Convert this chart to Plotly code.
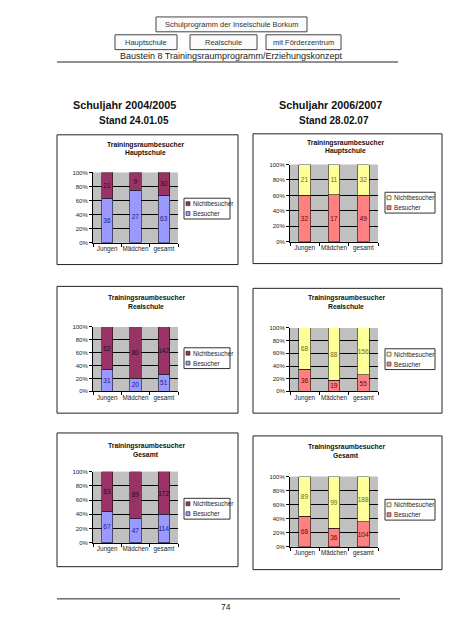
import plotly.graph_objects as go

# ---------------- data ----------------
categories = ["Jungen", "Mädchen", "gesamt"]
series_names = ["Besucher", "Nichtbesucher"]

# Schuljahr 2004/2005 (Stand 24.01.05)
haupt_0405_besucher = [36, 27, 63]
haupt_0405_nicht = [21, 9, 30]
real_0405_besucher = [31, 20, 51]
real_0405_nicht = [62, 80, 142]
ges_0405_besucher = [67, 47, 114]
ges_0405_nicht = [83, 89, 172]

# Schuljahr 2006/2007 (Stand 28.02.07)
haupt_0607_besucher = [32, 17, 49]
haupt_0607_nicht = [21, 11, 32]
real_0607_besucher = [36, 19, 55]
real_0607_nicht = [68, 88, 156]
ges_0607_besucher = [68, 36, 104]
ges_0607_nicht = [89, 99, 188]

y_tick_values = [0, 20, 40, 60, 80, 100]
y_tick_labels = ["0%", "20%", "40%", "60%", "80%", "100%"]

chart_title = "Trainingsraumbesucher"
chart_subtitles = ["Hauptschule", "Hauptschule", "Realschule", "Realschule", "Gesamt", "Gesamt"]

# ---------------- layout helpers ----------------
W, H = 452, 640
OFF = 8            # default page (body) margin of the written html
FW, FH = W - OFF, H - OFF
FONT = "Liberation Sans, Arial, sans-serif"


def fx(x):
    return (x - OFF) / FW


def fy(y):
    return 1 - (y - OFF) / FH


left_colors = {"Besucher": "#9999ff", "Nichtbesucher": "#993366"}
right_colors = {"Besucher": "#ff8080", "Nichtbesucher": "#ffff99"}
left_text = {"Besucher": "#1c1c80", "Nichtbesucher": "#2a0a22"}
right_text = {"Besucher": "#6a0808", "Nichtbesucher": "#6a6a30"}

charts = [
    dict(b=haupt_0405_besucher, n=haupt_0405_nicht, side="L",
         plot=(93, 178, 171, 242), frame=(57, 133, 238, 264), title=(145, 143), legend=(184, 197)),
    dict(b=haupt_0607_besucher, n=haupt_0607_nicht, side="R",
         plot=(290, 378, 163, 241), frame=(253, 132, 442, 263), title=(345, 141), legend=(385, 191)),
    dict(b=real_0405_besucher, n=real_0405_nicht, side="L",
         plot=(93, 178, 327, 392), frame=(57, 286, 238, 414), title=(146, 298), legend=(184, 348)),
    dict(b=real_0607_besucher, n=real_0607_nicht, side="R",
         plot=(290, 378, 328, 392), frame=(253, 288, 442, 414), title=(346, 298), legend=(385, 349)),
    dict(b=ges_0405_besucher, n=ges_0405_nicht, side="L",
         plot=(93, 178, 473, 545), frame=(57, 434, 238, 569), title=(146, 447), legend=(184, 500)),
    dict(b=ges_0607_besucher, n=ges_0607_nicht, side="R",
         plot=(290, 378, 478, 549), frame=(253, 437, 442, 572), title=(346, 448), legend=(385, 501)),
]

fig = go.Figure()
shapes = []
annotations = []
layout_axes = {}

for i, c in enumerate(charts, start=1):
    xid = "x" if i == 1 else f"x{i}"
    yid = "y" if i == 1 else f"y{i}"
    cols = left_colors if c["side"] == "L" else right_colors
    tcols = left_text if c["side"] == "L" else right_text
    for name, vals in (("Besucher", c["b"]), ("Nichtbesucher", c["n"])):
        fig.add_trace(go.Bar(
            x=categories, y=vals, name=name, text=vals,
            textposition="inside", insidetextanchor="middle", constraintext="none", textangle=0,
            textfont=dict(size=6.6, color=tcols[name], family=FONT),
            marker=dict(color=cols[name], line=dict(color="#111111", width=0.6)),
            width=0.4, showlegend=False, xaxis=xid, yaxis=yid,
            hovertemplate="%{x}: %{text}<extra>" + name + "</extra>",
        ))

    x0, x1, y0, y1 = c["plot"]
    xkey = "xaxis" if i == 1 else f"xaxis{i}"
    ykey = "yaxis" if i == 1 else f"yaxis{i}"
    layout_axes[xkey] = dict(
        domain=[fx(x0), fx(x1)], anchor=yid, type="category", range=[-0.5, 2.5],
        showline=True, linecolor="black", linewidth=1, showgrid=False,
        ticks="outside", ticklen=3, tickcolor="black", tickson="boundaries", tickangle=0,
        tickfont=dict(size=6.3, family=FONT, color="#222222"), fixedrange=True,
    )
    layout_axes[ykey] = dict(
        domain=[fy(y1), fy(y0)], anchor=xid, range=[0, 100],
        tickvals=y_tick_values, ticktext=y_tick_labels,
        showline=True, linecolor="black", linewidth=1,
        showgrid=True, gridcolor="black", gridwidth=1, zeroline=False,
        ticks="outside", ticklen=3, tickcolor="black", tickangle=0,
        tickfont=dict(size=6, family=FONT, color="#222222"), fixedrange=True,
    )

    # chart frame
    fx0, fy0, fx1, fy1 = c["frame"]
    shapes.append(dict(type="rect", xref="paper", yref="paper",
                       x0=fx(fx0), x1=fx(fx1), y0=fy(fy0), y1=fy(fy1),
                       line=dict(color="#222222", width=1), fillcolor="rgba(0,0,0,0)", layer="below"))

    # chart title
    tx, ty = c["title"]
    annotations.append(dict(text="<b>" + chart_title + "</b>", x=fx(tx), y=fy(ty),
                            xref="paper", yref="paper", showarrow=False, xanchor="center", yanchor="middle",
                            font=dict(size=6.8, family=FONT, color="#111111")))
    annotations.append(dict(text="<b>" + chart_subtitles[i - 1] + "</b>", x=fx(tx), y=fy(ty + 8.5),
                            xref="paper", yref="paper", showarrow=False, xanchor="center", yanchor="middle",
                            font=dict(size=6.8, family=FONT, color="#111111")))

    # legend (drawn manually to match the small Excel legend)
    lx, ly = c["legend"]
    lw = 46 if c["side"] == "L" else 50
    shapes.append(dict(type="rect", xref="paper", yref="paper",
                       x0=fx(lx), x1=fx(lx + lw), y0=fy(ly), y1=fy(ly + 21),
                       line=dict(color="#333333", width=1), fillcolor="white"))
    for k, name in enumerate(["Nichtbesucher", "Besucher"]):
        cy = ly + 5.5 + 10 * k
        shapes.append(dict(type="rect", xref="paper", yref="paper",
                           x0=fx(lx + 2), x1=fx(lx + 6), y0=fy(cy - 2), y1=fy(cy + 2),
                           line=dict(color="#222222", width=0.6), fillcolor=cols[name]))
        annotations.append(dict(text=name, x=fx(lx + 7), y=fy(cy), xref="paper", yref="paper",
                                showarrow=False, xanchor="left", yanchor="middle",
                                font=dict(size=6.3, family=FONT, color="#222222")))

# ---------------- page header ----------------
header_boxes = [
    ("Schulprogramm der Inselschule Borkum", 156, 14, 307, 29),
    ("Hauptschule", 115, 32, 177, 47),
    ("Realschule", 190, 32, 257, 47),
    ("mit Förderzentrum", 266, 32, 341, 47),
]
for text, bx0, by0, bx1, by1 in header_boxes:
    shapes.append(dict(type="rect", xref="paper", yref="paper",
                       x0=fx(bx0), x1=fx(bx1), y0=fy(by0), y1=fy(by1),
                       line=dict(color="#444444", width=1), fillcolor="#fbfbfb"))
    annotations.append(dict(text=text, x=fx((bx0 + bx1) / 2), y=fy((by0 + by1) / 2),
                            xref="paper", yref="paper", showarrow=False, xanchor="center", yanchor="middle",
                            font=dict(size=7.5, family=FONT, color="#333333")))

annotations.append(dict(text="Baustein 8 Trainingsraumprogramm/Erziehungskonzept", x=fx(232), y=fy(53),
                        xref="paper", yref="paper", showarrow=False, xanchor="center", yanchor="middle",
                        font=dict(size=9, family=FONT, color="#222222")))
shapes.append(dict(type="line", xref="paper", yref="paper", x0=fx(57), x1=fx(398), y0=fy(59.5), y1=fy(59.5),
                   line=dict(color="#222222", width=1)))

# year headings
for text, cx, cy, size in [
    ("Schuljahr 2004/2005", 125, 103, 10.8),
    ("Stand 24.01.05", 134.5, 119, 10),
    ("Schuljahr 2006/2007", 330, 103, 10.8),
    ("Stand 28.02.07", 334, 119, 10),
]:
    annotations.append(dict(text="<b>" + text + "</b>", x=fx(cx), y=fy(cy), xref="paper", yref="paper",
                            showarrow=False, xanchor="center", yanchor="middle",
                            font=dict(size=size, family=FONT, color="#111111")))

# footer
shapes.append(dict(type="line", xref="paper", yref="paper", x0=fx(57), x1=fx(400), y0=fy(601.5), y1=fy(601.5),
                   line=dict(color="#222222", width=1)))
annotations.append(dict(text="74", x=fx(226), y=fy(610), xref="paper", yref="paper",
                        showarrow=False, xanchor="center", yanchor="middle",
                        font=dict(size=8.5, family=FONT, color="#222222")))

fig.update_layout(
    width=FW, height=FH, margin=dict(l=0, r=0, t=0, b=0),
    barmode="stack", barnorm="percent",
    plot_bgcolor="#c0c0c0", paper_bgcolor="white",
    showlegend=False, shapes=shapes, annotations=annotations,
    **layout_axes,
)

fig.write_html("out.html")
